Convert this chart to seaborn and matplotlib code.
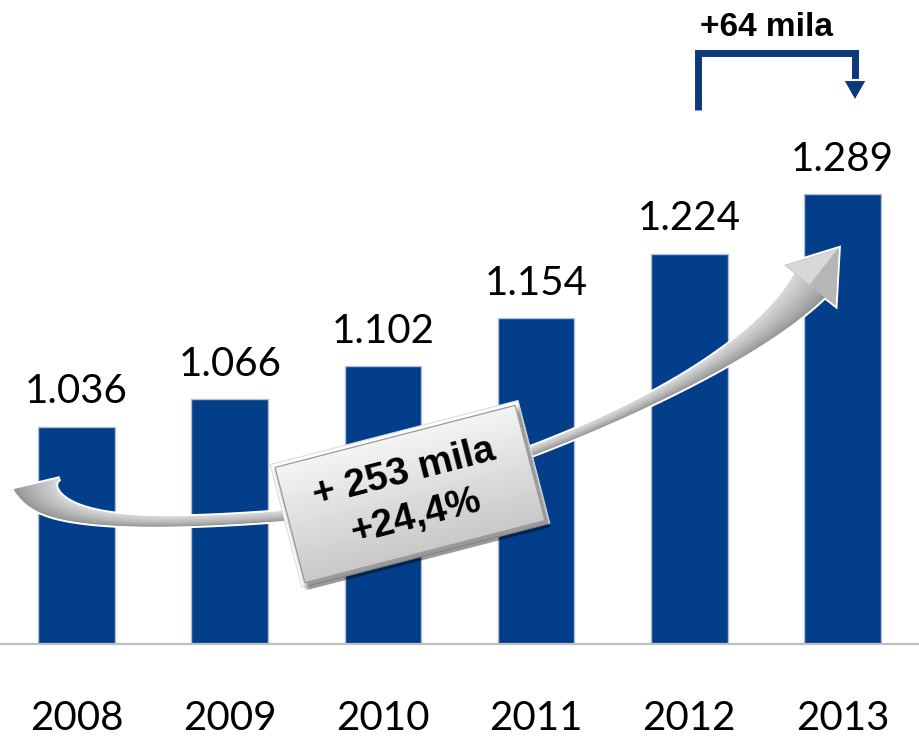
import numpy as np
import pandas as pd
import matplotlib
matplotlib.use("Agg")
import matplotlib.pyplot as plt
import matplotlib.transforms as mtransforms
import matplotlib.patheffects as pe
from matplotlib.patches import Polygon
from matplotlib.colors import to_rgb
import seaborn as sns

# Members (thousands) per year
years = ["2008", "2009", "2010", "2011", "2012", "2013"]
members = [1036, 1066, 1102, 1154, 1224, 1289]
last_step_label = "+64 mila"

BAR_COLOR = "#023e8a"
W_PX, H_PX = 920, 737

sns.set_style("white")
plt.rcParams["font.family"] = ["Lato", "DejaVu Sans"]

df = pd.DataFrame({"anno": years, "iscritti": members})

fig = plt.figure(figsize=(W_PX / 100, H_PX / 100), dpi=100)
ax = fig.add_axes([0, 93 / H_PX, 919 / W_PX, 644 / H_PX])

sns.barplot(data=df, x="anno", y="iscritti", color=BAR_COLOR, width=0.5,
            edgecolor="#b3bfd6", linewidth=1.0, saturation=1, ax=ax, zorder=2)

ax.set_ylim(800, 1500)
ax.set_xlim(-0.5, len(years) - 0.5)
ax.set_xlabel("")
ax.set_ylabel("")
ax.set_yticks([])
for side in ("left", "right", "top"):
    ax.spines[side].set_visible(False)
ax.spines["bottom"].set_color("#bfbfbf")
ax.spines["bottom"].set_linewidth(1.6)

# category separators as major ticks, year labels on minor ticks
ax.set_xticks(np.arange(-0.5, len(years), 1.0))
ax.set_xticklabels([])
ax.set_xticks(np.arange(len(years)), minor=True)
ax.set_xticklabels(years, minor=True, fontsize=29, color="black")
ax.tick_params(axis="x", which="major", length=11, width=1.5, color="#a6a6a6", direction="out")
ax.tick_params(axis="x", which="minor", length=0, pad=40)

# value labels above the bars
for i, v in enumerate(members):
    label = f"{v:,}".replace(",", ".")
    ax.annotate(label, xy=(i, v), xytext=(0, 17), textcoords="offset points",
                ha="center", va="baseline", fontsize=29, color="black", zorder=5)

# ---- callouts, laid out in pixel units (origin top-left) ----
canvas = mtransforms.Affine2D().scale(1 / W_PX, -1 / H_PX).translate(0, 1) + fig.transFigure


def add_poly(pts, **kw):
    p = Polygon(pts, closed=True, transform=canvas, clip_on=False, **kw)
    ax.add_patch(p)
    return p


def mix(c1, c2, f):
    a, b = np.array(to_rgb(c1)), np.array(to_rgb(c2))
    return tuple(a + (b - a) * f)


def bezier(p, t):
    p0, p1, p2, p3 = [np.asarray(q, float) for q in p]
    t = t[:, None]
    pts = (1 - t) ** 3 * p0 + 3 * (1 - t) ** 2 * t * p1 + 3 * (1 - t) * t ** 2 * p2 + t ** 3 * p3
    d = 3 * (1 - t) ** 2 * (p1 - p0) + 6 * (1 - t) * t * (p2 - p1) + 3 * t ** 2 * (p3 - p2)
    d = d / np.linalg.norm(d, axis=1, keepdims=True)
    n = np.column_stack([d[:, 1], -d[:, 0]])  # points "up" on screen
    return pts, d, n


def ribbon(ctrl, width_fn, n_strips=12, z=3):
    t = np.linspace(0, 1, 160)
    c, d, n = bezier(ctrl, t)
    w = width_fn(t)[:, None] / 2
    upper = c + n * w
    lower = c - n * w
    add_poly(np.vstack([upper, lower[::-1]]), facecolor="none", edgecolor="white",
             linewidth=3.5, zorder=z - 0.1)
    s_edges = np.linspace(-1, 1, n_strips + 1)
    for k in range(n_strips):
        a = c + n * w * s_edges[k]
        b = c + n * w * s_edges[k + 1]
        f = (k + 0.5) / n_strips
        col = mix("#8e8e8e", "#d6d6d6", f ** 0.7)
        add_poly(np.vstack([a, b[::-1]]), facecolor=col, edgecolor=col, linewidth=0.6, zorder=z)
    return c, d, n


# growth ribbon: curled tail on the left, head toward the last bar
ribbon([(37, 484), (47, 526), (150, 526), (283, 516)],
       lambda t: 9 + 38 * (1 - t) ** 4)
c, d, n = ribbon([(283, 516), (400, 510), (720, 400), (810, 285)],
                 lambda t: 8 + 30 * np.clip((t - 0.45) / 0.55, 0, 1) ** 2.5)
end, u, nn = c[-1], d[-1], n[-1]
tip = end + 46 * u
barb_up = end + nn * 32
barb_lo = end - nn * 32
head = np.array([tip, barb_up, barb_lo])
add_poly(head, facecolor="none", edgecolor="white", linewidth=3.5, zorder=2.9)
add_poly(head, facecolor="#d8d8d8", edgecolor="#c4c4c4", linewidth=0.6, zorder=3.1)
add_poly(np.array([tip, end, barb_lo]), facecolor="#b6b6b6", edgecolor="#b6b6b6",
         linewidth=0.6, zorder=3.2)

# rotated label box
ang = np.deg2rad(14.5)
bc = np.array([410.0, 494.0])
bu = np.array([np.cos(ang), -np.sin(ang)])
bv = np.array([np.sin(ang), np.cos(ang)])
BW, BH = 248, 119


def box_pts(pad=0.0, off=(0, 0)):
    hw, hh = BW / 2 + pad, BH / 2 + pad
    o = bc + np.asarray(off, float)
    return np.array([o - bu * hw - bv * hh, o + bu * hw - bv * hh,
                     o + bu * hw + bv * hh, o - bu * hw + bv * hh])


add_poly(box_pts(pad=4), facecolor="white", edgecolor="#dcdcdc", linewidth=0.8, zorder=3.8)
for k, a in enumerate([0.10, 0.10, 0.12, 0.15]):
    add_poly(box_pts(pad=3 - k, off=(2 + k * 0.8, 4 + k)), facecolor="black", alpha=a,
             edgecolor="none", zorder=3.9)
n_b = 40
for k in range(n_b):
    f0, f1 = k / n_b - 0.5, (k + 1) / n_b - 0.5
    strip = np.array([bc - bu * BW / 2 + bv * BH * f0, bc + bu * BW / 2 + bv * BH * f0,
                      bc + bu * BW / 2 + bv * BH * f1, bc - bu * BW / 2 + bv * BH * f1])
    col = mix("#f5f5f5", "#c9c9c9", (k + 0.5) / n_b)
    add_poly(strip, facecolor=col, edgecolor=col, linewidth=0.5, zorder=4)
add_poly(box_pts(), facecolor="none", edgecolor="#9a9a9a", linewidth=0.9, zorder=4.1)

growth = members[-1] - members[0]
growth_pct = growth / members[0] * 100
box_lines = [f"+ {growth} mila", f"+{growth_pct:.1f}%".replace(".", ",")]
for txt, off in zip(box_lines, (-22, 24)):
    pos = bc + bv * off
    ax.text(pos[0], pos[1], txt, transform=canvas, rotation=14.5, rotation_mode="anchor",
            ha="center", va="center", fontsize=28, fontweight="bold",
            family=["Liberation Sans", "DejaVu Sans"], color="black", zorder=5, clip_on=False)

# last-year step bracket
NAVY = "#0b3a7a"
glow = [pe.Stroke(linewidth=9.5, foreground="white"), pe.Normal()]
ax.plot([698, 698, 855, 855], [110, 53, 53, 82], transform=canvas, color=NAVY,
        linewidth=5.0, solid_joinstyle="miter", solid_capstyle="butt", clip_on=False,
        zorder=5, path_effects=glow)
add_poly(np.array([(843, 80), (867, 80), (855, 101)]), facecolor=NAVY, edgecolor="white",
         linewidth=1.5, zorder=5.1)
ax.text(767, 28, last_step_label, transform=canvas, ha="center", va="center",
        fontsize=24, fontweight="bold", family=["Liberation Sans", "DejaVu Sans"],
        color="black", zorder=5, clip_on=False)

fig.savefig("out.png", dpi=100)
